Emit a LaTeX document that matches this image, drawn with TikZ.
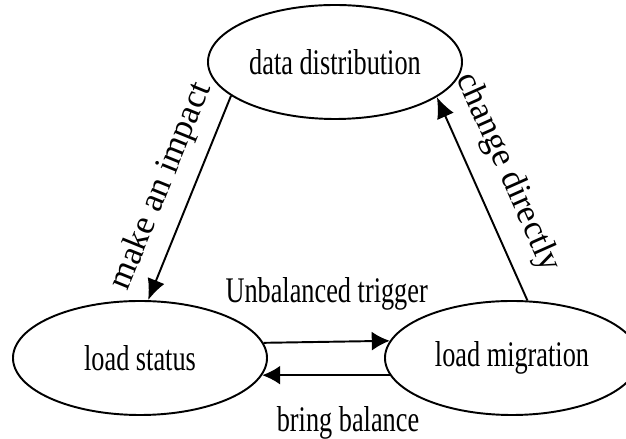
\documentclass[tikz,border=0pt]{standalone}
\usepackage{fontspec}
\setmainfont[FakeStretch=0.73]{Liberation Serif}
\newfontfamily\slopefont{Liberation Serif}
\usetikzlibrary{shapes.geometric,arrows.meta}

\begin{document}
\begin{tikzpicture}[
  stage/.style={draw, ellipse, line width=1.1pt, minimum width=5.08cm, minimum height=2.28cm, inner sep=0pt},
  link/.style={-{Latex[length=4.2mm,width=3.6mm]}, line width=1.1pt},
  slopelabel/.style={sloped, inner sep=0pt, font=\slopefont\fontsize{19.8}{22}\selectfont},
  font=\fontsize{20.5}{23}\selectfont
]
\useasboundingbox (0,0) rectangle (12.52,8.78);

% the three stages
\node[stage] (data) at (6.70,7.54) {data distribution};
\node[stage] (status) at (2.80,1.62) {load status};
\node[stage] (migration) at (10.24,1.62) {load migration};

% up and down the sides
\draw[link] (data.198) -- (status.82) node[midway, slopelabel, above=0.27cm] {make an impact};
\draw[link] (migration.75) -- (data.-19) node[pos=0.56, slopelabel, above=0.34cm] {change directly};

% between the two lower stages
\draw[link, -{Latex[length=3.6mm,width=3.8mm]}] (status.7.5) -- (migration.172.5) node[midway, above=0.62cm, inner sep=0pt] {Unbalanced trigger};
\draw[link, -{Latex[length=3.6mm,width=3.8mm]}] (migration.188) -- (status.-8) node[midway, below=0.6cm, xshift=0.44cm, inner sep=0pt] {bring balance};

\end{tikzpicture}
\end{document}
